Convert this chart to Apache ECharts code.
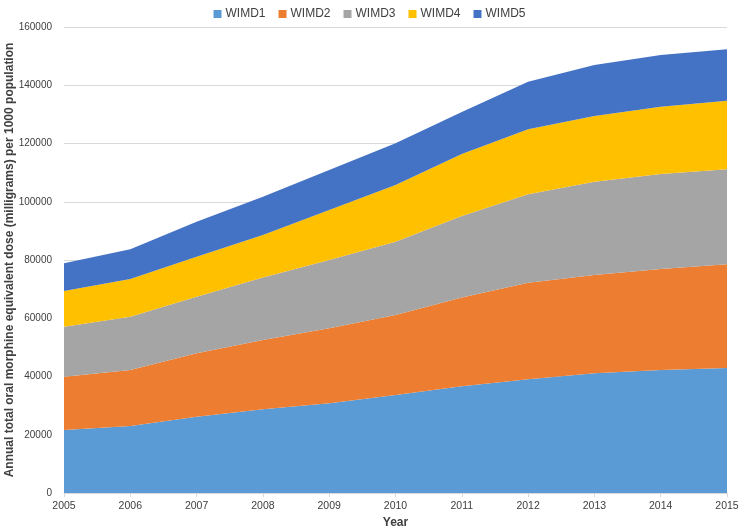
<!DOCTYPE html>
<html>
<head>
<meta charset="utf-8">
<script src="https://cdn.jsdelivr.net/npm/echarts@6/dist/echarts.min.js"></script>
<style>
html,body{margin:0;padding:0;background:#fff;}
#main{width:739px;height:531px;}
</style>
</head>
<body>
<div id="main"></div>
<script>
var years = ['2005','2006','2007','2008','2009','2010','2011','2012','2013','2014','2015'];
var wimd1 = [21630, 23000, 26200, 28740, 30800, 33650, 36640, 39040, 41100, 42230, 42920];
var wimd2 = [18300, 19230, 21770, 23790, 25750, 27470, 30480, 33160, 33750, 34680, 35600];
var wimd3 = [17170, 18300, 19430, 21460, 23450, 25170, 27990, 30360, 32040, 32620, 32620];
var wimd4 = [12260, 12950, 13730, 14590, 17170, 19460, 21290, 22320, 22550, 23110, 23560];
var wimd5 = [9510, 10190, 12020, 13150, 13730, 14320, 14420, 16340, 17510, 17750, 17640];

var names = ['WIMD1','WIMD2','WIMD3','WIMD4','WIMD5'];
var values = [wimd1, wimd2, wimd3, wimd4, wimd5];
var colors = ['#5B9BD5','#ED7D31','#A5A5A5','#FFC000','#4472C4'];

var myChart = echarts.init(document.getElementById('main'));

var series = names.map(function(n, i){
    return {
        name: n,
        type: 'line',
        stack: 'total',
        data: values[i],
        symbol: 'none',
        lineStyle: {width: 0},
        areaStyle: {color: colors[i], opacity: 1},
        itemStyle: {color: colors[i]}
    };
});

var option = {
    animation: false,
    textStyle: {fontFamily: 'Liberation Sans'},
    legend: {
        top: 3,
        left: 'center',
        icon: 'rect',
        itemWidth: 8,
        itemHeight: 8,
        itemGap: 13,
        textStyle: {fontSize: 12, color: '#404040', padding: [0,0,0,-1]},
        data: names
    },
    grid: {left: 64, right: 12, top: 27, bottom: 38, containLabel: false, outerBoundsMode: 'none'},
    xAxis: {
        type: 'category',
        boundaryGap: false,
        data: years,
        name: 'Year',
        nameLocation: 'middle',
        nameGap: 24,
        nameMoveOverlap: false,
        nameTextStyle: {fontWeight: 'bold', fontSize: 12, color: '#404040'},
        axisLine: {lineStyle: {color: '#d9d9d9'}},
        axisTick: {show: true, length: 4, lineStyle: {color: '#d9d9d9'}},
        axisLabel: {color: '#404040', fontSize: 10.5, margin: 8}
    },
    yAxis: {
        type: 'value',
        min: 0,
        max: 160000,
        interval: 20000,
        name: 'Annual total oral morphine equivalent dose (milligrams) per 1000 population',
        nameLocation: 'middle',
        nameGap: 48,
        nameMoveOverlap: false,
        nameTextStyle: {fontWeight: 'bold', fontSize: 12, color: '#404040'},
        axisLine: {show: false},
        axisTick: {show: false},
        splitLine: {lineStyle: {color: '#d9d9d9'}},
        axisLabel: {
            color: '#404040',
            fontSize: 10,
            margin: 12,
            formatter: function (v) { return String(v); }
        }
    },
    series: series
};

myChart.setOption(option);
</script>
</body>
</html>
